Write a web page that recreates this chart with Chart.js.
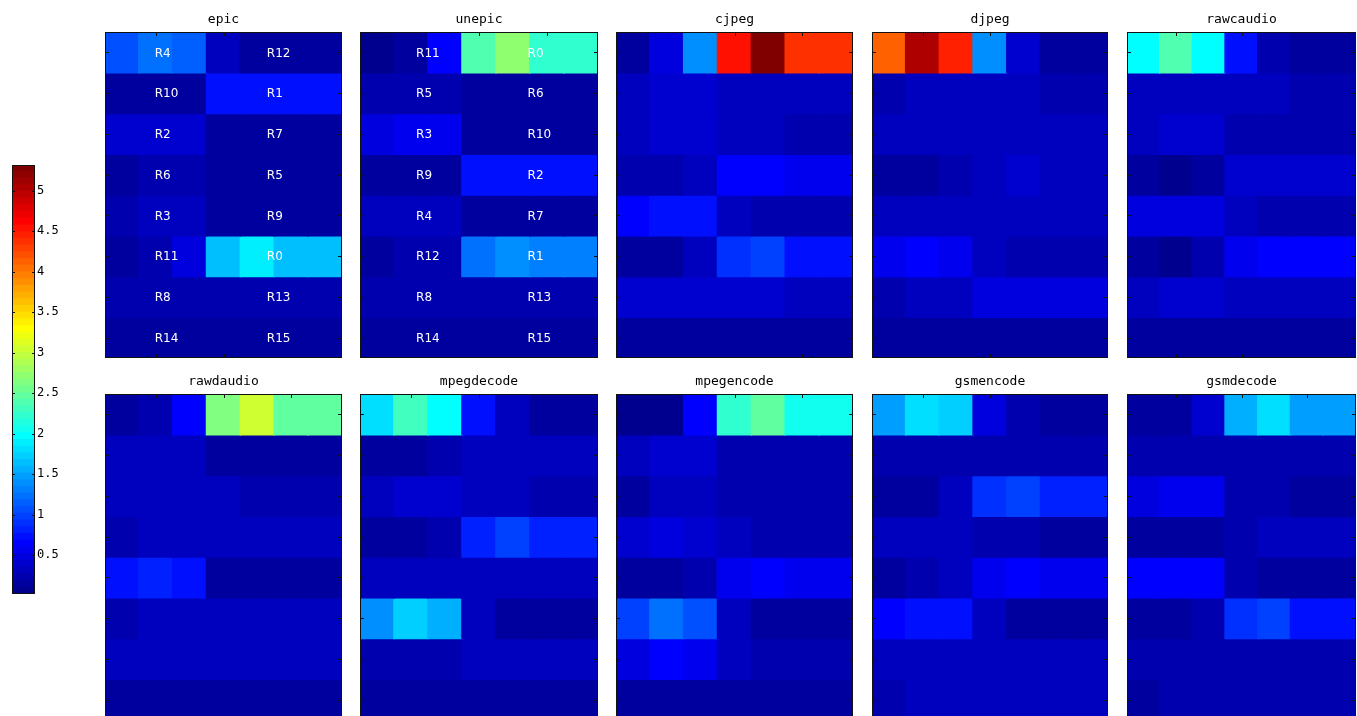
<!DOCTYPE html>
<html>
<head>
<meta charset="utf-8">
<title>Register access heat maps</title>
<script src="https://cdn.jsdelivr.net/npm/chart.js@4.4.0/dist/chart.umd.min.js"></script>
<style>
  html, body { margin: 0; padding: 0; background: #fff; width: 1357px; height: 716px; overflow: hidden; }
  canvas { position: absolute; }
</style>
</head>
<body>
<script>
// ---- data -------------------------------------------------------------
const benchmarks = ['epic', 'unepic', 'cjpeg', 'djpeg', 'rawcaudio',
                    'rawdaudio', 'mpegdecode', 'mpegencode', 'gsmencode', 'gsmdecode'];
const columns = ['1', '2', '3', '4', '5', '6', '7'];

const epic = [
  [1.05, 1.20, 1.10, 0.35, 0.12, 0.12, 0.12],
  [0.12, 0.12, 0.12, 0.72, 0.72, 0.72, 0.72],
  [0.42, 0.42, 0.42, 0.15, 0.15, 0.12, 0.12],
  [0.18, 0.20, 0.20, 0.15, 0.15, 0.15, 0.15],
  [0.20, 0.28, 0.28, 0.15, 0.15, 0.15, 0.15],
  [0.15, 0.20, 0.50, 1.64, 1.88, 1.60, 1.60],
  [0.20, 0.20, 0.20, 0.20, 0.20, 0.20, 0.20],
  [0.18, 0.18, 0.18, 0.18, 0.18, 0.18, 0.18]
];
const unepic = [
  [0.10, 0.12, 0.65, 2.40, 2.75, 2.20, 2.20],
  [0.20, 0.20, 0.20, 0.15, 0.15, 0.15, 0.15],
  [0.45, 0.55, 0.55, 0.15, 0.15, 0.15, 0.15],
  [0.12, 0.12, 0.15, 0.70, 0.75, 0.70, 0.70],
  [0.30, 0.30, 0.30, 0.15, 0.15, 0.15, 0.15],
  [0.12, 0.20, 0.20, 1.25, 1.42, 1.27, 1.27],
  [0.20, 0.25, 0.25, 0.20, 0.20, 0.20, 0.20],
  [0.15, 0.15, 0.15, 0.12, 0.12, 0.12, 0.12]
];
const cjpeg = [
  [0.15, 0.50, 1.35, 4.55, 5.30, 4.38, 4.38],
  [0.35, 0.40, 0.40, 0.35, 0.35, 0.30, 0.30],
  [0.35, 0.40, 0.40, 0.35, 0.30, 0.25, 0.25],
  [0.20, 0.25, 0.30, 0.60, 0.65, 0.55, 0.55],
  [0.60, 0.75, 0.70, 0.35, 0.20, 0.20, 0.20],
  [0.15, 0.15, 0.30, 0.85, 0.95, 0.75, 0.75],
  [0.40, 0.40, 0.40, 0.40, 0.40, 0.35, 0.35],
  [0.15, 0.15, 0.15, 0.15, 0.15, 0.15, 0.15]
];
const djpeg = [
  [4.12, 5.03, 4.45, 1.35, 0.40, 0.15, 0.15],
  [0.20, 0.27, 0.27, 0.27, 0.27, 0.25, 0.25],
  [0.30, 0.30, 0.30, 0.35, 0.33, 0.30, 0.30],
  [0.15, 0.15, 0.22, 0.33, 0.38, 0.35, 0.35],
  [0.33, 0.33, 0.35, 0.33, 0.33, 0.30, 0.30],
  [0.57, 0.63, 0.57, 0.27, 0.20, 0.20, 0.20],
  [0.25, 0.30, 0.30, 0.48, 0.48, 0.45, 0.45],
  [0.18, 0.18, 0.18, 0.18, 0.18, 0.18, 0.18]
];
const rawcaudio = [
  [1.95, 2.34, 2.00, 0.70, 0.25, 0.18, 0.18],
  [0.30, 0.30, 0.30, 0.35, 0.30, 0.22, 0.22],
  [0.28, 0.38, 0.38, 0.25, 0.25, 0.25, 0.25],
  [0.12, 0.10, 0.15, 0.42, 0.42, 0.42, 0.42],
  [0.45, 0.50, 0.50, 0.30, 0.22, 0.22, 0.22],
  [0.15, 0.10, 0.20, 0.55, 0.65, 0.60, 0.60],
  [0.28, 0.38, 0.38, 0.33, 0.33, 0.28, 0.28],
  [0.18, 0.18, 0.18, 0.18, 0.18, 0.18, 0.18]
];
const rawdaudio = [
  [0.15, 0.25, 0.65, 2.63, 3.04, 2.46, 2.46],
  [0.30, 0.35, 0.35, 0.15, 0.15, 0.15, 0.15],
  [0.30, 0.35, 0.35, 0.30, 0.25, 0.25, 0.25],
  [0.25, 0.30, 0.30, 0.35, 0.30, 0.30, 0.30],
  [0.70, 0.80, 0.74, 0.15, 0.12, 0.12, 0.12],
  [0.25, 0.30, 0.30, 0.35, 0.35, 0.30, 0.30],
  [0.30, 0.35, 0.35, 0.35, 0.35, 0.30, 0.30],
  [0.15, 0.15, 0.15, 0.15, 0.15, 0.15, 0.15]
];
const mpegdecode = [
  [1.84, 2.30, 1.98, 0.70, 0.30, 0.15, 0.15],
  [0.15, 0.12, 0.20, 0.30, 0.30, 0.30, 0.30],
  [0.30, 0.40, 0.40, 0.30, 0.30, 0.20, 0.20],
  [0.15, 0.15, 0.20, 0.80, 0.95, 0.80, 0.80],
  [0.30, 0.35, 0.35, 0.35, 0.30, 0.30, 0.30],
  [1.35, 1.70, 1.55, 0.35, 0.15, 0.12, 0.12],
  [0.20, 0.20, 0.20, 0.35, 0.35, 0.35, 0.35],
  [0.15, 0.15, 0.15, 0.15, 0.15, 0.15, 0.15]
];
const mpegencode = [
  [0.10, 0.10, 0.65, 2.25, 2.50, 2.05, 2.05],
  [0.30, 0.40, 0.40, 0.25, 0.25, 0.25, 0.25],
  [0.15, 0.30, 0.30, 0.25, 0.25, 0.25, 0.25],
  [0.40, 0.45, 0.40, 0.30, 0.20, 0.20, 0.20],
  [0.12, 0.12, 0.25, 0.55, 0.60, 0.55, 0.55],
  [1.00, 1.25, 1.08, 0.30, 0.15, 0.12, 0.12],
  [0.50, 0.60, 0.55, 0.30, 0.25, 0.25, 0.25],
  [0.15, 0.15, 0.15, 0.15, 0.15, 0.15, 0.15]
];
const gsmencode = [
  [1.51, 1.77, 1.68, 0.50, 0.20, 0.15, 0.15],
  [0.25, 0.25, 0.25, 0.25, 0.25, 0.20, 0.20],
  [0.12, 0.12, 0.30, 0.85, 0.95, 0.80, 0.80],
  [0.30, 0.30, 0.30, 0.20, 0.20, 0.12, 0.12],
  [0.15, 0.20, 0.30, 0.55, 0.60, 0.55, 0.55],
  [0.60, 0.70, 0.70, 0.30, 0.15, 0.15, 0.15],
  [0.30, 0.30, 0.30, 0.30, 0.30, 0.30, 0.30],
  [0.25, 0.30, 0.30, 0.30, 0.30, 0.30, 0.30]
];
const gsmdecode = [
  [0.12, 0.15, 0.40, 1.56, 1.84, 1.51, 1.51],
  [0.25, 0.25, 0.25, 0.25, 0.25, 0.25, 0.25],
  [0.50, 0.55, 0.55, 0.20, 0.20, 0.12, 0.12],
  [0.12, 0.15, 0.15, 0.25, 0.30, 0.30, 0.30],
  [0.60, 0.65, 0.65, 0.20, 0.12, 0.12, 0.12],
  [0.12, 0.12, 0.25, 0.85, 0.95, 0.75, 0.75],
  [0.20, 0.20, 0.20, 0.20, 0.20, 0.20, 0.20],
  [0.15, 0.20, 0.20, 0.20, 0.20, 0.20, 0.20]
];

// register names shown on the first two maps (left half, right half of each row)
const epicRegs = [['R4', 'R12'], ['R10', 'R1'], ['R2', 'R7'], ['R6', 'R5'],
                  ['R3', 'R9'], ['R11', 'R0'], ['R8', 'R13'], ['R14', 'R15']];
const unepicRegs = [['R11', 'R0'], ['R5', 'R6'], ['R3', 'R10'], ['R9', 'R2'],
                    ['R4', 'R7'], ['R12', 'R1'], ['R8', 'R13'], ['R14', 'R15']];

const colorLimits = [0.02, 5.32];
const colorbarTicks = [0.5, 1, 1.5, 2, 2.5, 3, 3.5, 4, 4.5, 5];

// ---- colour map (MATLAB-style jet with 64 entries) ---------------------
function buildJet(m) {
  const n = Math.ceil(m / 4);
  const u = [];
  for (let k = 1; k <= n; k++) u.push(k / n);
  for (let k = 1; k < n; k++) u.push(1);
  for (let k = n; k >= 1; k--) u.push(k / n);
  const g0 = Math.ceil(n / 2) - (m % 4 === 1 ? 1 : 0);
  const map = Array.from({ length: m }, () => [0, 0, 0]);
  for (let k = 0; k < u.length; k++) {
    const gi = g0 + k + 1, ri = gi + n, bi = gi - n;
    if (ri >= 1 && ri <= m) map[ri - 1][0] = u[k];
    if (gi >= 1 && gi <= m) map[gi - 1][1] = u[k];
    if (bi >= 1 && bi <= m) map[bi - 1][2] = u[k];
  }
  return map.map(c => `rgb(${c.map(x => Math.round(x * 255)).join(',')})`);
}
const JET = buildJet(64);
function jetColor(v) {
  let i = Math.floor((v - colorLimits[0]) / (colorLimits[1] - colorLimits[0]) * JET.length);
  i = Math.max(0, Math.min(JET.length - 1, i));
  return JET[i];
}

// ---- layout -----------------------------------------------------------
const panelLefts = [105, 360, 616, 872, 1127];
const panelWidths = [237, 238, 237, 236, 229];
const panelTops = [32, 394];
const panelHeight = 326;
const titleBlock = 30;

const seriesByName = { epic, unepic, cjpeg, djpeg, rawcaudio, rawdaudio,
                       mpegdecode, mpegencode, gsmencode, gsmdecode };
const labelsByName = {
  epic: { regs: epicRegs, anchors: [0.97, 4.28] },
  unepic: { regs: unepicRegs, anchors: [1.15, 4.43] }
};

// box with small inward tick marks, like a classic plot axes frame
const framePlugin = {
  id: 'frame',
  afterDatasetsDraw(chart) {
    const { ctx, chartArea: a, scales: { x, y } } = chart;
    const L = Math.round(a.left), T = Math.round(a.top), R = Math.round(a.right), B = Math.round(a.bottom);
    ctx.save();
    ctx.strokeStyle = '#111';
    ctx.lineWidth = 1;
    ctx.beginPath();
    [1, 3, 5].forEach(i => {
      const px = Math.round(x.getPixelForValue(i)) + 0.5;
      ctx.moveTo(px, T); ctx.lineTo(px, T + 4);
      ctx.moveTo(px, B); ctx.lineTo(px, B - 4);
    });
    for (let r = 0; r < 8; r++) {
      const py = Math.round(y.getPixelForValue(r + 0.5)) + 0.5;
      ctx.moveTo(L, py); ctx.lineTo(L + 4, py);
      ctx.moveTo(R, py); ctx.lineTo(R - 4, py);
    }
    ctx.stroke();
    ctx.strokeRect(L + 0.5, T + 0.5, R - L - 1, B - T - 1);
    ctx.restore();
  }
};

// register names written inside the cells
const regLabelPlugin = {
  id: 'regLabels',
  afterDatasetsDraw(chart, args, opts) {
    if (!opts || !opts.regs) return;
    const { ctx, scales: { x, y } } = chart;
    ctx.save();
    ctx.fillStyle = '#fff';
    ctx.font = '12px "DejaVu Sans"';
    ctx.textAlign = 'left';
    ctx.textBaseline = 'middle';
    opts.regs.forEach((pair, r) => {
      pair.forEach((name, g) => {
        ctx.fillText(name, x.getPixelForValue(opts.anchors[g]), y.getPixelForValue(r + 0.5) + 1);
      });
    });
    ctx.restore();
  }
};

function makeCanvas(left, top, w, h) {
  const c = document.createElement('canvas');
  c.width = w; c.height = h;
  c.style.left = left + 'px';
  c.style.top = top + 'px';
  c.style.width = w + 'px';
  c.style.height = h + 'px';
  document.body.appendChild(c);
  return c;
}

benchmarks.forEach((name, idx) => {
  const row = Math.floor(idx / 5), col = idx % 5;
  const w = panelWidths[col];
  const canvas = makeCanvas(panelLefts[col], panelTops[row] - titleBlock, w, panelHeight + titleBlock);
  const values = seriesByName[name];
  new Chart(canvas, {
    type: 'bar',
    data: {
      labels: columns,
      datasets: values.map((rowVals, r) => ({
        data: rowVals.map(() => [r, r + 1]),
        backgroundColor: rowVals.map(jetColor),
        borderWidth: 0,
        inflateAmount: 0.8,
        barPercentage: 1,
        categoryPercentage: 1,
        grouped: false
      }))
    },
    options: {
      responsive: false,
      animation: false,
      events: [],
      layout: { padding: 0 },
      plugins: {
        legend: { display: false },
        tooltip: { enabled: false },
        title: {
          display: true,
          text: name,
          color: '#000',
          font: { family: '"DejaVu Sans Mono"', size: 13, weight: 'normal' },
          padding: { top: 10, bottom: 4.4 }
        },
        regLabels: labelsByName[name] || {}
      },
      scales: {
        x: { display: false, offset: true },
        y: { display: false, min: 0, max: 8, reverse: true }
      }
    },
    plugins: [framePlugin, regLabelPlugin]
  });
});

// ---- colour bar -------------------------------------------------------
(function () {
  const cw = 90, ch = 450;
  const canvas = makeCanvas(0, 155, cw, ch);
  const step = (colorLimits[1] - colorLimits[0]) / JET.length;
  const colorbarFrame = {
    id: 'cbFrame',
    afterDatasetsDraw(chart) {
      const { ctx, chartArea: a, scales: { y } } = chart;
      const L = Math.round(a.left), T = Math.round(a.top), R = Math.round(a.right), B = Math.round(a.bottom);
      ctx.save();
      ctx.strokeStyle = '#111';
      ctx.lineWidth = 1;
      ctx.beginPath();
      colorbarTicks.forEach(v => {
        const py = Math.round(y.getPixelForValue(v)) + 0.5;
        ctx.moveTo(L, py); ctx.lineTo(L + 3, py);
        ctx.moveTo(R, py); ctx.lineTo(R - 3, py);
      });
      ctx.stroke();
      ctx.strokeRect(L + 0.5, T + 0.5, R - L - 1, B - T - 1);
      ctx.restore();
    }
  };
  new Chart(canvas, {
    type: 'bar',
    data: {
      labels: [''],
      datasets: JET.map((c, i) => ({
        data: [[colorLimits[0] + i * step, colorLimits[0] + (i + 1) * step]],
        backgroundColor: c,
        borderWidth: 0,
        inflateAmount: 0.8,
        barPercentage: 1,
        categoryPercentage: 1,
        grouped: false
      }))
    },
    options: {
      responsive: false,
      animation: false,
      events: [],
      layout: { padding: { left: 12, top: 10, bottom: 11, right: 0 } },
      plugins: { legend: { display: false }, tooltip: { enabled: false } },
      scales: {
        x: { display: false, offset: true },
        y: {
          position: 'right',
          min: colorLimits[0],
          max: colorLimits[1],
          afterFit(s) { s.width = cw - 12 - 23; },
          afterBuildTicks(s) { s.ticks = colorbarTicks.map(v => ({ value: v })); },
          grid: { display: false, drawTicks: false },
          border: { display: false },
          ticks: {
            color: '#000',
            padding: 2,
            font: { family: '"DejaVu Sans Mono"', size: 12 },
            callback: v => String(v)
          }
        }
      }
    },
    plugins: [colorbarFrame]
  });
})();
</script>
</body>
</html>
